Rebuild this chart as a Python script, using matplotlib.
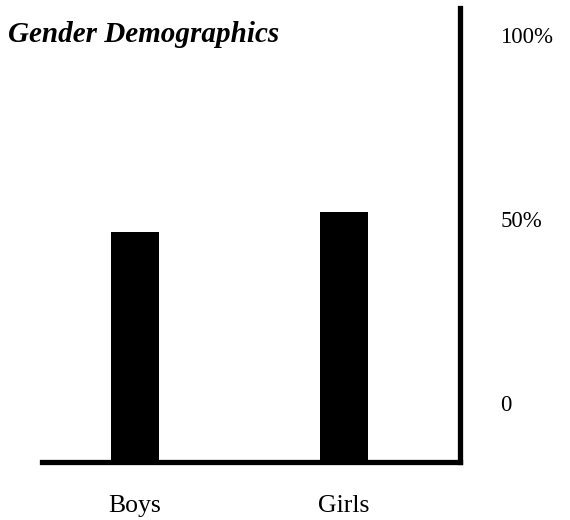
import numpy as np
import matplotlib
matplotlib.use('Agg')
import matplotlib.pyplot as plt

# --- Data ---
categories = ['Boys', 'Girls']
values = [46.5, 52]          # percent
tick_values = [0, 50, 100]
tick_labels = ['0', '50%', '100%']

W, H = 570, 520
plt.rcParams['font.family'] = ['Liberation Serif', 'DejaVu Serif']

fig = plt.figure(figsize=(W / 100, H / 100), dpi=100)
# axes box in pixel coordinates (left, right, baseline, top)
x0, x1, yb, yt = 42, 460, 462, 8
ax = fig.add_axes([x0 / W, (H - yb) / H, (x1 - x0) / W, (yb - yt) / H])

ymin, ymax = -16, 107.3
xs = np.arange(len(categories))
ax.bar(xs, np.array(values) - ymin, bottom=ymin, width=0.23, color='black')

ax.set_xlim(-0.445, 1.555)
ax.set_ylim(ymin, ymax)

for side in ['top', 'left']:
    ax.spines[side].set_visible(False)
for side in ['right', 'bottom']:
    ax.spines[side].set_linewidth(3.8)
    ax.spines[side].set_capstyle('projecting')

ax.yaxis.tick_right()
ax.set_yticks(tick_values)
ax.set_yticklabels(tick_labels, fontsize=16.5)
for lbl in ax.get_yticklabels():
    lbl.set_horizontalalignment('left')
ax.tick_params(axis='y', length=0, pad=29)

ax.set_xticks(xs)
ax.set_xticklabels(categories, fontsize=18.5)
ax.tick_params(axis='x', length=0, pad=24)

fig.text(8 / W, 1 - 35 / H, 'Gender Demographics', fontsize=21,
         fontweight='bold', fontstyle='italic', va='center', ha='left')

fig.savefig('out.png', dpi=100, facecolor='white')
